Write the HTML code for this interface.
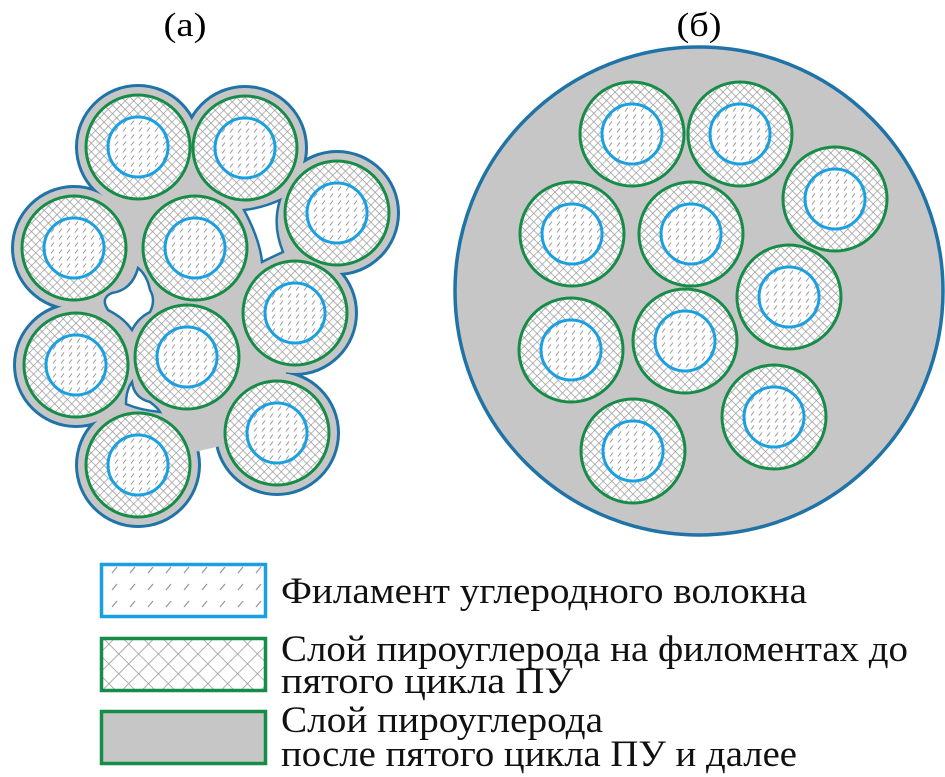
<!DOCTYPE html>
<html><head><meta charset="utf-8"><style>html,body{margin:0;padding:0;background:#fff;}svg{display:block}</style></head>
<body>
<svg width="945" height="777" viewBox="0 0 945 777" xmlns="http://www.w3.org/2000/svg">
<defs>
<pattern id="xh" width="6" height="6" patternUnits="userSpaceOnUse" patternTransform="rotate(45)">
<rect width="6" height="6" fill="#fff"/>
<path d="M0 0H6M0 0V6" stroke="#9a9a9a" stroke-width="1.4"/>
</pattern>
<pattern id="dh" width="8" height="7" patternUnits="userSpaceOnUse">
<rect width="8" height="7" fill="#fff"/>
<path d="M1 5.5L4 1.5" stroke="#9a9a9a" stroke-width="1"/>
</pattern>
<pattern id="xhL" width="14" height="14" patternUnits="userSpaceOnUse" patternTransform="rotate(45)">
<rect width="14" height="14" fill="#fff"/>
<path d="M0 0H14M0 0V14" stroke="#9a9a9a" stroke-width="1.6"/>
</pattern>
<pattern id="dhL" width="18" height="17" patternUnits="userSpaceOnUse">
<rect width="18" height="17" fill="#fff"/>
<path d="M4 12L9 6" stroke="#9a9a9a" stroke-width="1.3"/>
</pattern>
<g id="f">
<circle r="52" fill="url(#xh)" stroke="#178c48" stroke-width="3"/>
<circle r="30" fill="url(#dh)" stroke="#1aa0e0" stroke-width="3"/>
</g>
</defs>

<text x="185" y="36" font-family="Liberation Serif, serif" font-size="34" text-anchor="middle" textLength="43" lengthAdjust="spacingAndGlyphs">(а)</text>
<text x="699" y="36" font-family="Liberation Serif, serif" font-size="34" text-anchor="middle" textLength="45" lengthAdjust="spacingAndGlyphs">(б)</text>

<!-- left cluster -->
<g fill="#1f73a6">
<circle cx="138" cy="147" r="63"/><circle cx="245" cy="148" r="63"/><circle cx="337" cy="213" r="63"/>
<circle cx="74" cy="248" r="63"/><circle cx="195" cy="248" r="63"/><circle cx="295" cy="313" r="63"/>
<circle cx="76" cy="365" r="63"/><circle cx="187" cy="357" r="63"/><circle cx="277" cy="433" r="63"/>
<circle cx="138" cy="465" r="63"/>
</g>
<g fill="#c6c6c6">
<circle cx="138" cy="147" r="60"/><circle cx="245" cy="148" r="60"/><circle cx="337" cy="213" r="60"/>
<circle cx="74" cy="248" r="60"/><circle cx="195" cy="248" r="60"/><circle cx="295" cy="313" r="60"/>
<circle cx="76" cy="365" r="60"/><circle cx="187" cy="357" r="60"/><circle cx="277" cy="433" r="60"/>
<circle cx="138" cy="465" r="60"/>
<polygon points="138,147 245,148 337,213 295,313 277,433 138,465 76,365 74,248"/>
</g>
<g fill="#fff" stroke="#1f73a6" stroke-width="2.5">
<path d="M138 268 Q147 275 150 290 Q156 300 150 312 Q138 318 132 330 Q124 318 108 310 Q100 298 112 293 Q132 290 138 268Z"/>
<path d="M244 210 Q262 208 280 200 Q272 225 283 252 Q270 258 262 262 Q260 240 244 210Z"/>
<path d="M132 382 Q134 398 150 402 Q158 408 160 412 Q140 410 126 404 Q126 390 132 382Z"/>
</g>
<use href="#f" x="138" y="147"/><use href="#f" x="245" y="148"/><use href="#f" x="337" y="213"/>
<use href="#f" x="74" y="248"/><use href="#f" x="195" y="248"/><use href="#f" x="295" y="313"/>
<use href="#f" x="76" y="365"/><use href="#f" x="187" y="357"/><use href="#f" x="277" y="433"/>
<use href="#f" x="138" y="465"/>

<!-- right -->
<circle cx="699" cy="291" r="244" fill="#c6c6c6" stroke="#1f73a6" stroke-width="3.5"/>
<use href="#f" x="632" y="134"/><use href="#f" x="740" y="134"/><use href="#f" x="835" y="199"/>
<use href="#f" x="572" y="234"/><use href="#f" x="691" y="234"/><use href="#f" x="789" y="297"/>
<use href="#f" x="571" y="350"/><use href="#f" x="685" y="341"/><use href="#f" x="774" y="417"/>
<use href="#f" x="633" y="451"/>

<!-- legend -->
<rect x="101.5" y="564.5" width="164" height="52" fill="url(#dhL)" stroke="#1aa0e0" stroke-width="3.5"/>
<rect x="101.5" y="638.5" width="164" height="52" fill="url(#xhL)" stroke="#178c48" stroke-width="3.5"/>
<rect x="101.5" y="711.5" width="164" height="52" fill="#c6c6c6" stroke="#178c48" stroke-width="3.5"/>
<g font-family="Liberation Serif, serif" font-size="37" fill="#111">
<text x="281" y="603" textLength="526" lengthAdjust="spacingAndGlyphs">Филамент углеродного волокна</text>
<text x="281" y="661" textLength="627" lengthAdjust="spacingAndGlyphs">Слой пироуглерода на филоментах до</text>
<text x="281" y="693" textLength="292" lengthAdjust="spacingAndGlyphs">пятого цикла  ПУ</text>
<text x="281" y="732" textLength="322" lengthAdjust="spacingAndGlyphs">Слой пироуглерода</text>
<text x="281" y="766" textLength="516" lengthAdjust="spacingAndGlyphs">после пятого цикла ПУ и далее</text>
</g>
</svg>
</body></html>
